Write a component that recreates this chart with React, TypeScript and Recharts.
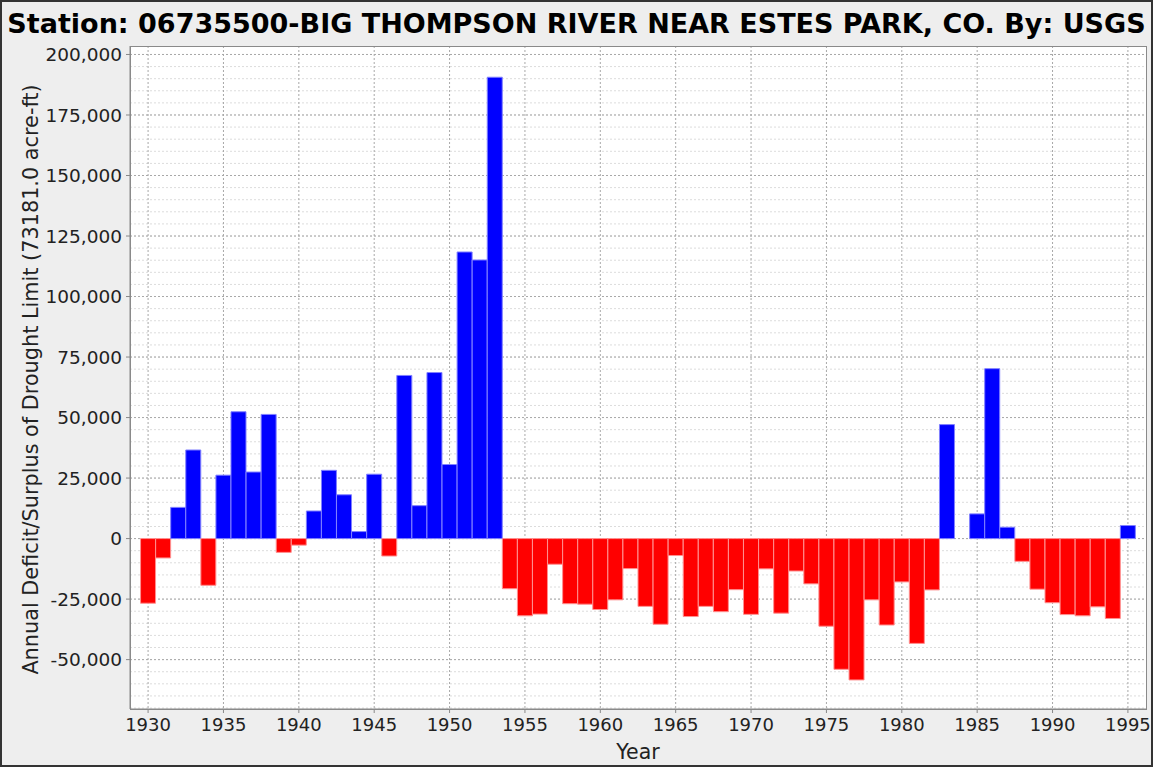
import {
  BarChart, Bar, Cell, XAxis, YAxis, CartesianGrid, Label,
} from 'recharts';

// Annual deficit/surplus vs drought limit (73181.0 acre-ft)
const YEARS = [
  1930, 1931, 1932, 1933, 1934, 1935, 1936, 1937, 1938, 1939,
  1940, 1941, 1942, 1943, 1944, 1945, 1946, 1947, 1948, 1949,
  1950, 1951, 1952, 1953, 1954, 1955, 1956, 1957, 1958, 1959,
  1960, 1961, 1962, 1963, 1964, 1965, 1966, 1967, 1968, 1969,
  1970, 1971, 1972, 1973, 1974, 1975, 1976, 1977, 1978, 1979,
  1980, 1981, 1982, 1983, 1984, 1985, 1986, 1987, 1988, 1989,
  1990, 1991, 1992, 1993, 1994, 1995,
];

const DEFICIT_SURPLUS = [
  -26700, -8000, 12900, 36600, -19300, 26200, 52400, 27500, 51300, -5700,
  -2700, 11400, 28200, 18100, 2900, 26600, -7200, 67400, 13600, 68600,
  30600, 118400, 115100, 190600, -20700, -31900, -31200, -10600, -26900, -27100,
  -29300, -25300, -12400, -28000, -35400, -7000, -32200, -28000, -30200, -21100,
  -31300, -12500, -30800, -13400, -18700, -36200, -54000, -58400, -25300, -35700,
  -17900, -43300, -21200, 47100, 0, 10200, 70200, 4700, -9400, -20900,
  -26500, -31400, -31900, -28200, -33000, 5400,
];

const X_TICKS = [1930, 1935, 1940, 1945, 1950, 1955, 1960, 1965, 1970, 1975, 1980, 1985, 1990, 1995];
const Y_TICKS = [-50000, -25000, 0, 25000, 50000, 75000, 100000, 125000, 150000, 175000, 200000];
const Y_MINOR = Array.from({ length: 55 }, (_, i) => -70000 + i * 5000);

const TITLE = 'Station: 06735500-BIG THOMPSON RIVER NEAR ESTES PARK, CO. By: USGS';
const Y_LABEL = 'Annual Deficit/Surplus of Drought Limit (73181.0 acre-ft)';
const X_LABEL = 'Year';

const SURPLUS_COLOR = '#0000ff';
const DEFICIT_COLOR = '#ff0000';
const FONT = "'DejaVu Sans', sans-serif";

const data = YEARS.map((year, i) => ({ year, value: DEFICIT_SURPLUS[i] }));

const W = 1153;
const H = 767;
const PLOT = { left: 130, top: 46, right: 1146, bottom: 709 };

export default function App() {
  return (
    <div style={{
      position: 'absolute', left: 0, top: 0, width: W, height: H,
      background: '#eeeeee', fontFamily: FONT, overflow: 'hidden',
    }}>
      <div style={{
        position: 'absolute', top: 7, left: 0, width: W,
        textAlign: 'center', fontSize: 27, fontWeight: 'bold',
        lineHeight: '34px', color: '#000', whiteSpace: 'nowrap',
      }}>
        {TITLE}
      </div>

      <div style={{ position: 'absolute', left: 0, top: 0 }}>
        <BarChart
          width={W}
          height={H}
          data={data}
          margin={{ top: PLOT.top, right: W - PLOT.right, bottom: 0, left: 0 }}
          barCategoryGap={0}
        >
          {/* minor grid, every 5,000 */}
          <CartesianGrid
            horizontalValues={Y_MINOR}
            vertical={false}
            stroke="#dcdcdc"
            strokeDasharray="2 2"
            fill="#ffffff"
          />
          {/* major grid */}
          <CartesianGrid
            horizontalValues={Y_TICKS}
            verticalValues={X_TICKS}
            stroke="#a8a8a8"
            strokeDasharray="2 2"
          />
          <XAxis
            dataKey="year"
            type="number"
            domain={[1928.8, 1996.2]}
            allowDataOverflow
            ticks={X_TICKS}
            interval={0}
            height={H - PLOT.bottom}
            tickSize={4}
            tickMargin={5}
            tick={{ fontSize: 18, fill: '#222', fontFamily: FONT }}
            axisLine={{ stroke: '#888' }}
            tickLine={{ stroke: '#888' }}
          >
            <Label
              content={({ viewBox }: any) => (
                <text
                  x={viewBox.x + viewBox.width / 2}
                  y={H - 8}
                  textAnchor="middle"
                  fontSize={20.5}
                  fill="#222"
                  fontFamily={FONT}
                >
                  {X_LABEL}
                </text>
              )}
            />
          </XAxis>
          <YAxis
            type="number"
            domain={[-70400, 203500]}
            allowDataOverflow
            ticks={Y_TICKS}
            interval={0}
            width={PLOT.left}
            tickSize={4}
            tickMargin={4}
            tickFormatter={(v: number) => v.toLocaleString('en-US')}
            tick={{ fontSize: 18.5, fill: '#222', fontFamily: FONT }}
            axisLine={{ stroke: '#888' }}
            tickLine={{ stroke: '#888' }}
          >
            <Label
              content={({ viewBox }: any) => {
                const cx = 38;
                const cy = viewBox.y + viewBox.height / 2 + 2;
                return (
                  <text
                    x={cx}
                    y={cy}
                    transform={`rotate(-90, ${cx}, ${cy})`}
                    textAnchor="middle"
                    fontSize={20.8}
                    fill="#222"
                    fontFamily={FONT}
                  >
                    {Y_LABEL}
                  </text>
                );
              }}
            />
          </YAxis>
          <Bar dataKey="value" barSize={15} isAnimationActive={false}>
            {data.map((d) => (
              <Cell
                key={d.year}
                fill={d.value >= 0 ? SURPLUS_COLOR : DEFICIT_COLOR}
                stroke={d.value >= 0 ? '#8080ff' : '#ff9090'}
                strokeWidth={1}
              />
            ))}
          </Bar>
        </BarChart>
      </div>

      {/* plot frame */}
      <div style={{
        position: 'absolute', left: PLOT.left, top: PLOT.top,
        width: PLOT.right - PLOT.left + 1, height: PLOT.bottom - PLOT.top + 1,
        border: '1px solid #8a8a8a', boxSizing: 'border-box', pointerEvents: 'none',
      }} />
      {/* outer frame */}
      <div style={{
        position: 'absolute', left: 0, top: 0, width: W, height: H,
        border: '2px solid #333', boxSizing: 'border-box', pointerEvents: 'none',
      }} />
    </div>
  );
}
